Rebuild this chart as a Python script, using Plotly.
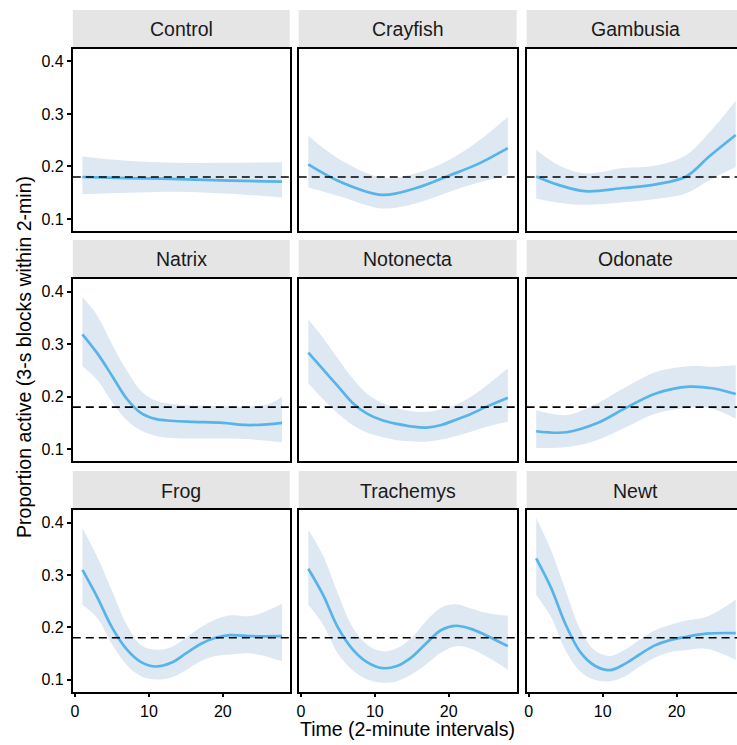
import plotly.graph_objects as go

# ---------------- data ----------------
panel_names = ["Control", "Crayfish", "Gambusia",
               "Natrix", "Notonecta", "Odonate",
               "Frog", "Trachemys", "Newt"]
reference_level = 0.18

control_x = [1, 7, 14, 21, 28]
control_fit = [0.180, 0.178, 0.176, 0.173, 0.171]
control_hi = [0.219, 0.211, 0.207, 0.207, 0.208]
control_lo = [0.147, 0.150, 0.152, 0.148, 0.141]

crayfish_x = [1, 5.3, 11, 15.6, 20.1, 23.7, 28]
crayfish_fit = [0.204, 0.171, 0.146, 0.159, 0.183, 0.203, 0.235]
crayfish_hi = [0.258, 0.213, 0.179, 0.187, 0.213, 0.245, 0.294]
crayfish_lo = [0.160, 0.143, 0.120, 0.130, 0.152, 0.168, 0.184]

gambusia_x = [1, 4, 7.6, 12.8, 17.2, 21.3, 24.4, 28]
gambusia_fit = [0.181, 0.165, 0.153, 0.159, 0.166, 0.181, 0.219, 0.260]
gambusia_hi = [0.232, 0.203, 0.187, 0.197, 0.202, 0.222, 0.264, 0.325]
gambusia_lo = [0.139, 0.131, 0.127, 0.132, 0.138, 0.149, 0.174, 0.199]

natrix_x = [1, 3, 5, 7, 9, 11, 13, 16, 20, 23, 26, 28]
natrix_fit = [0.319, 0.283, 0.240, 0.196, 0.168, 0.157, 0.154, 0.152, 0.150, 0.146, 0.147, 0.150]
natrix_hi = [0.390, 0.355, 0.300, 0.250, 0.210, 0.192, 0.186, 0.183, 0.182, 0.181, 0.185, 0.200]
natrix_lo = [0.258, 0.232, 0.190, 0.155, 0.135, 0.125, 0.121, 0.120, 0.120, 0.119, 0.116, 0.113]

notonecta_x = [1, 3, 5, 7, 9, 11, 13, 15, 17, 19, 21, 23, 25, 28]
notonecta_fit = [0.284, 0.252, 0.220, 0.188, 0.167, 0.155, 0.148, 0.143, 0.141, 0.146, 0.156, 0.167, 0.180, 0.198]
notonecta_hi = [0.347, 0.312, 0.273, 0.235, 0.205, 0.188, 0.178, 0.172, 0.171, 0.176, 0.185, 0.200, 0.220, 0.254]
notonecta_lo = [0.225, 0.195, 0.168, 0.146, 0.131, 0.123, 0.117, 0.115, 0.114, 0.118, 0.125, 0.133, 0.142, 0.152]

odonate_x = [1, 5.1, 9.2, 13.2, 17.2, 21.7, 24.8, 28]
odonate_fit = [0.134, 0.132, 0.149, 0.179, 0.206, 0.219, 0.216, 0.205]
odonate_hi = [0.174, 0.165, 0.187, 0.219, 0.247, 0.258, 0.257, 0.260]
odonate_lo = [0.102, 0.104, 0.117, 0.142, 0.168, 0.179, 0.177, 0.158]

frog_x = [1, 3, 5, 7, 9, 11, 13, 15, 17, 19, 21, 24, 28]
frog_fit = [0.310, 0.258, 0.200, 0.158, 0.133, 0.125, 0.132, 0.150, 0.168, 0.180, 0.185, 0.183, 0.183]
frog_hi = [0.390, 0.335, 0.270, 0.205, 0.165, 0.157, 0.162, 0.180, 0.200, 0.215, 0.223, 0.222, 0.245]
frog_lo = [0.243, 0.218, 0.168, 0.128, 0.106, 0.100, 0.104, 0.118, 0.135, 0.145, 0.148, 0.150, 0.135]

trachemys_x = [1, 3, 5, 7, 9, 11, 13, 15, 17, 19, 21, 23, 25, 28]
trachemys_fit = [0.312, 0.262, 0.200, 0.158, 0.133, 0.122, 0.126, 0.143, 0.170, 0.195, 0.203, 0.197, 0.185, 0.164]
trachemys_hi = [0.386, 0.337, 0.265, 0.200, 0.166, 0.154, 0.160, 0.180, 0.213, 0.238, 0.244, 0.236, 0.228, 0.222]
trachemys_lo = [0.243, 0.205, 0.150, 0.118, 0.100, 0.094, 0.097, 0.110, 0.130, 0.152, 0.164, 0.159, 0.145, 0.119]

newt_x = [1, 3, 5, 7, 9, 11, 13, 15, 17, 19, 21, 24, 28]
newt_fit = [0.332, 0.276, 0.205, 0.152, 0.126, 0.118, 0.130, 0.148, 0.165, 0.175, 0.181, 0.188, 0.189]
newt_hi = [0.409, 0.348, 0.270, 0.195, 0.155, 0.145, 0.157, 0.176, 0.194, 0.204, 0.212, 0.220, 0.253]
newt_lo = [0.262, 0.220, 0.155, 0.115, 0.099, 0.097, 0.106, 0.125, 0.142, 0.152, 0.156, 0.159, 0.138]

x_ticks = [0, 10, 20]
y_ticks = [0.1, 0.2, 0.3, 0.4]

panels = [
    (control_x, control_fit, control_lo, control_hi),
    (crayfish_x, crayfish_fit, crayfish_lo, crayfish_hi),
    (gambusia_x, gambusia_fit, gambusia_lo, gambusia_hi),
    (natrix_x, natrix_fit, natrix_lo, natrix_hi),
    (notonecta_x, notonecta_fit, notonecta_lo, notonecta_hi),
    (odonate_x, odonate_fit, odonate_lo, odonate_hi),
    (frog_x, frog_fit, frog_lo, frog_hi),
    (trachemys_x, trachemys_fit, trachemys_lo, trachemys_hi),
    (newt_x, newt_fit, newt_lo, newt_hi),
]

# ---------------- layout geometry ----------------
W, H = 737, 745
col_px = [(71, 288.5), (297.5, 516), (526, 744.5)]
row_plot_px = [(48.5, 231), (279, 461), (510, 691.5)]
row_strip_px = [(10, 48), (240, 278), (471, 510)]
x_lo, x_hi = -0.3, 29.05
y_range = [0.0772, 0.4245]
px_per_unit = (col_px[0][1] - col_px[0][0]) / (x_hi - x_lo)

LINE = "#56B4E9"
RIBBON = "rgb(222,232,243)"
STRIP = "#E5E5E5"
FONT = "Liberation Sans, Arial, sans-serif"

fig = go.Figure()
layout = dict(width=W, height=H, margin=dict(l=0, r=0, t=0, b=0),
              plot_bgcolor="white", paper_bgcolor="white",
              showlegend=False, font=dict(family=FONT, color="black"))
shapes = []
annotations = []

for i, (name, (xs, fit, lo, hi)) in enumerate(zip(panel_names, panels)):
    r, c = divmod(i, 3)
    n = i + 1
    sfx = "" if n == 1 else str(n)
    xa, ya = "x" + sfx, "y" + sfx

    fig.add_trace(go.Scatter(x=xs, y=lo, mode="lines",
                             line=dict(width=0, shape="spline", smoothing=1, color=RIBBON),
                             xaxis=xa, yaxis=ya, hoverinfo="skip"))
    fig.add_trace(go.Scatter(x=xs, y=hi, mode="lines",
                             line=dict(width=0, shape="spline", smoothing=1, color=RIBBON),
                             fill="tonexty", fillcolor=RIBBON, xaxis=xa, yaxis=ya, hoverinfo="skip"))
    fig.add_trace(go.Scatter(x=xs, y=fit, mode="lines",
                             line=dict(width=2.7, shape="spline", smoothing=1, color=LINE),
                             xaxis=xa, yaxis=ya))

    x0p, x1p = col_px[c]
    x1_clip = min(x1p, W)
    xr_hi = x_lo + (x1_clip - x0p) / px_per_unit
    y0p, y1p = row_plot_px[r]

    layout["xaxis" + sfx] = dict(
        domain=[x0p / W, x1_clip / W], range=[x_lo, xr_hi], anchor=ya,
        showgrid=False, zeroline=False, showline=True, linecolor="black", linewidth=1.8,
        mirror=True, tickvals=x_ticks, ticks="outside" if r == 2 else "",
        ticklen=4, tickwidth=1.5, tickcolor="black",
        showticklabels=(r == 2), tickfont=dict(size=16, color="black"))
    layout["yaxis" + sfx] = dict(
        domain=[1 - y1p / H, 1 - y0p / H], range=y_range, anchor=xa,
        showgrid=False, zeroline=False, showline=True, linecolor="black", linewidth=1.8,
        mirror=(c != 2), tickvals=y_ticks, ticks="outside" if c == 0 else "",
        ticklen=4, tickwidth=1.5, tickcolor="black",
        showticklabels=(c == 0), tickfont=dict(size=16, color="black"))

    # reference dashed line
    shapes.append(dict(type="line", xref=xa + " domain", yref=ya, x0=0, x1=1,
                       y0=reference_level, y1=reference_level,
                       line=dict(color="black", width=1.6, dash="8px,5px"), layer="above"))
    # strip
    s0, s1 = row_strip_px[r]
    shapes.append(dict(type="rect", xref="paper", yref="paper",
                       x0=x0p / W, x1=x1_clip / W, y0=1 - s1 / H, y1=1 - s0 / H,
                       fillcolor=STRIP, line=dict(width=0), layer="below"))
    annotations.append(dict(text=name, xref="paper", yref="paper",
                            x=(x0p + x1p) / 2 / W, y=1 - (s0 + s1) / 2 / H,
                            xanchor="center", yanchor="middle", showarrow=False,
                            font=dict(size=19.5, color="#1A1A1A")))

annotations.append(dict(text="Time (2-minute intervals)", xref="paper", yref="paper",
                        x=(col_px[1][0] + col_px[1][1]) / 2 / W, y=1 - 729 / H,
                        xanchor="center", yanchor="middle", showarrow=False,
                        font=dict(size=19.5, color="black")))
annotations.append(dict(text="Proportion active (3-s blocks within 2-min)", xref="paper", yref="paper",
                        x=22 / W, y=1 - 357 / H, textangle=-90,
                        xanchor="center", yanchor="middle", showarrow=False,
                        font=dict(size=19.5, color="black")))

layout["shapes"] = shapes
layout["annotations"] = annotations
fig.update_layout(**layout)
fig.write_html("out.html")
